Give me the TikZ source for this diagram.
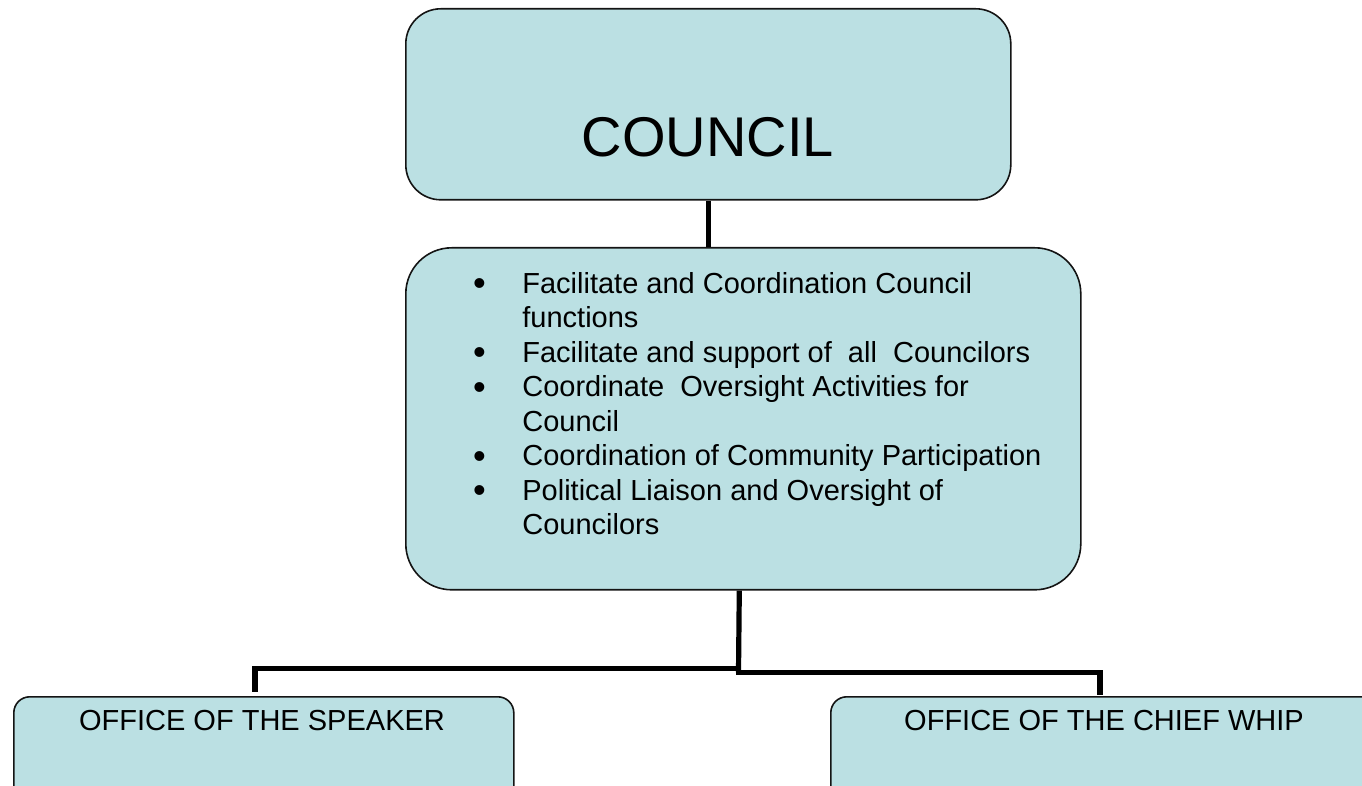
\documentclass[tikz,border=0pt]{standalone}
\usepackage{fontspec}
\setmainfont{Liberation Sans}
\definecolor{boxfill}{RGB}{187,224,227}
\definecolor{boxline}{RGB}{20,20,20}
\newcommand\mybul{\leavevmode\llap{\raisebox{-1.2pt}{\scalebox{1.25}{\textbullet}}\hspace{18.3pt}}}
\begin{document}
\begin{tikzpicture}[x=0.5pt,y=-0.5pt,
  box/.style={draw=boxline, line width=0.8pt, fill=boxfill, inner sep=0pt, anchor=north west},
  conn/.style={draw=black, line width=2.6pt},
  txt/.style={inner sep=0pt, anchor=base, text=black}]
\useasboundingbox (0,0) rectangle (1362,786);
\clip (0,0) rectangle (1362,786);
% boxes
\node[box, rounded corners=17.5pt, minimum width=302.5pt, minimum height=95.5pt] (council) at (405,8) {};
\node[box, rounded corners=23pt, minimum width=337.5pt, minimum height=171pt] (list) at (405,247) {};
\node[box, rounded corners=8pt, minimum width=250pt, minimum height=60pt] (speaker) at (13,696) {};
\node[box, rounded corners=8pt, minimum width=280pt, minimum height=60pt] (whip) at (830,696) {};
% texts
\node[txt, font=\fontsize{28}{32}\selectfont] (counciltext) at (708,157) {COUNCIL};
\node[inner sep=0pt, anchor=base west] (listtext) at (522,293.5) {\parbox[t]{300pt}{\fontsize{14.5}{17.25}\selectfont\raggedright
\mybul Facilitate and Coordination Council\\
functions\\
\mybul Facilitate and support of\ \ all\ \ Councilors\\
\mybul Coordinate\ \ Oversight Activities for\\
Council\\
\mybul Coordination of Community Participation\\
\mybul Political Liaison and Oversight of\\
Councilors}};
\node[txt, font=\fontsize{14.5}{17}\selectfont] (speakertext) at (262,730) {OFFICE OF THE SPEAKER};
\node[txt, font=\fontsize{14.5}{17}\selectfont] (whiptext) at (1104,730) {OFFICE OF THE CHIEF WHIP};
% connectors
\coordinate (jL) at (738.5,668.5);
\coordinate (jR) at (738.5,672.5);
\coordinate (sp) at (255,692);
\coordinate (cw) at (1100,695);
\draw[conn] (council.south) -- (council.south |- list.north);
\draw[conn] ([xshift=-2pt]list.south) -- (jR);
\draw[conn] ([xshift=1.2pt]jL) -| (sp);
\draw[conn] ([xshift=-1.2pt]jR) -| (cw);
\end{tikzpicture}
\end{document}
